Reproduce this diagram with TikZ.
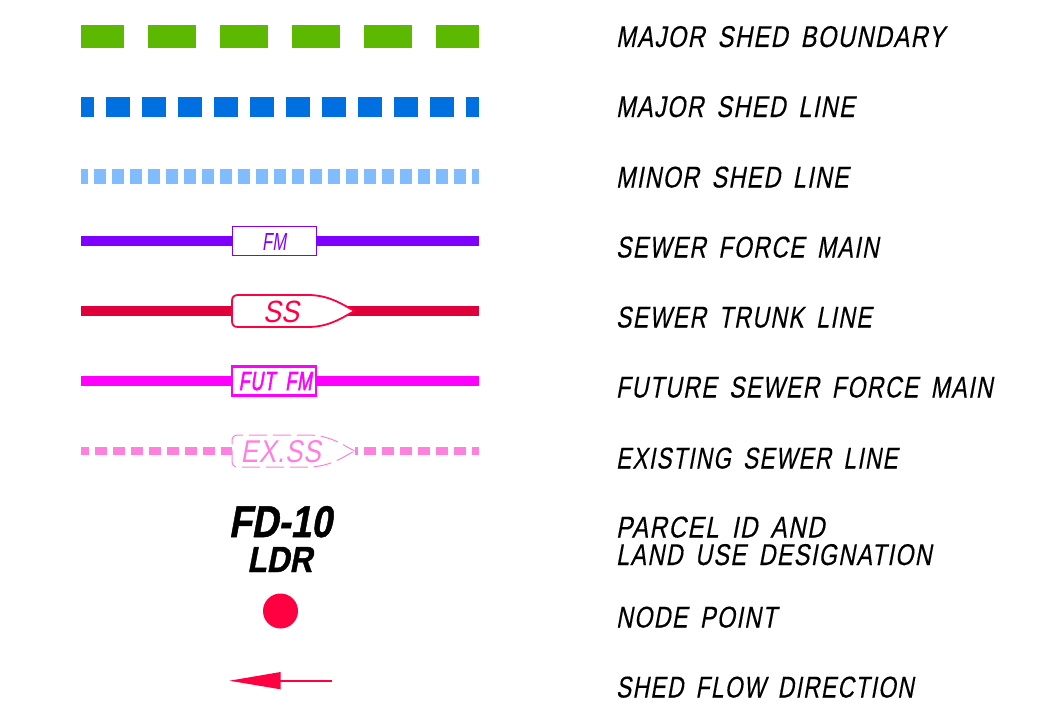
\documentclass[tikz,border=0pt]{standalone}
\usepackage{fontspec}
\usepackage{graphicx}
\setmainfont[FakeSlant=0.22]{Liberation Sans}
\newfontfamily\labfont[LetterSpace=6,WordSpace=1.6,FakeSlant=0.24,FakeBold=0.35]{Liberation Sans}
\newfontfamily\exfont[LetterSpace=3,FakeSlant=0.22]{Liberation Sans}
\newfontfamily\futfont[LetterSpace=5,WordSpace=1.8,FakeSlant=0.24,FakeBold=2.5]{Liberation Sans}
\newfontfamily\heavyfont[BoldFeatures={FakeSlant=0.22,FakeBold=1.2}]{Liberation Sans}
\definecolor{shedgreen}{HTML}{5CB800}
\definecolor{shedblue}{HTML}{0070E0}
\definecolor{shedlight}{HTML}{80BCFF}
\definecolor{fmpurple}{HTML}{8000FF}
\definecolor{trunkred}{HTML}{E0003A}
\definecolor{symred}{HTML}{FF0040}
\definecolor{futmag}{HTML}{FF00FF}
\definecolor{expink}{HTML}{FF80DD}
\newcommand{\fitbox}[3]{\resizebox{#1pt}{#2pt}{#3}}
\newcommand{\shiplabel}[4]{% name, baseline y, width, text
  \node[inner sep=0,anchor=base west] (#1) at (615.8,#2) {\labfont\fitbox{#3}{21}{#4}};}
\newcommand{\shipoutline}[2]{% y centre, style
  \draw[#2] (354.5,#1) .. controls (344,#1-5.5) and (330,#1-16) .. (308,#1-16)
     -- (238,#1-16) .. controls (234,#1-16) and (232,#1-14) .. (232,#1-10)
     -- (232,#1+10) .. controls (232,#1+14) and (234,#1+16) .. (238,#1+16)
     -- (308,#1+16) .. controls (330,#1+16) and (344,#1+5.5) .. (354.5,#1);}
\tikzset{
  x=1pt,y=-1pt,
  legendline/.style={line width=#1,line cap=butt},
  tagbox/.style={inner sep=0,minimum width=84pt,rectangle},
  tagtext/.style={inner sep=0,anchor=base west},
}
\begin{document}
\begin{tikzpicture}
\useasboundingbox (0,0) rectangle (1057,717);
% end points of the sample lines
\foreach \n/\y in {a/36.5,b/107,c/176.5,d/241,e/311,f/381,g/451}{
  \coordinate (\n L) at (81,\y);
  \coordinate (\n R) at (479,\y);
}
% dashed samples
\draw[legendline=23.5pt,shedgreen,dash pattern=on 48pt off 24pt,dash phase=5pt] (aL) -- (aR);
\draw[legendline=19.5pt,shedblue,dash pattern=on 24pt off 12pt,dash phase=11pt] (bL) -- (bR);
\draw[legendline=15pt,shedlight,dash pattern=on 12pt off 6pt,dash phase=5pt] (cL) -- (cR);
% force main
\node[draw=fmpurple,line width=1pt,fill=white,tagbox,minimum height=28.5pt] (fmbox) at (274,241) {};
\draw[legendline=9.5pt,fmpurple] (dL) -- (fmbox.west);
\draw[legendline=9.5pt,fmpurple] (fmbox.east) -- (dR);
\node[tagtext,text=fmpurple] (fmtext) at (262,250) {\fitbox{24}{17}{FM}};
% trunk line
\coordinate (ssL) at (232,311);
\coordinate (ssT) at (340,311);
\draw[legendline=10.5pt,trunkred] (eL) -- (ssL);
\draw[legendline=10.5pt,trunkred] (ssT) -- (eR);
\shipoutline{311}{draw=symred,line width=1.8pt,fill=white}
\node[tagtext,text=symred] (sstext) at (263,322.5) {\fitbox{36}{21.5}{SS}};
% future force main
\node[draw=futmag,line width=2.2pt,fill=white,tagbox,minimum height=29pt] (futbox) at (274,381) {};
\draw[legendline=10pt,futmag] (fL) -- (futbox.west);
\draw[legendline=10pt,futmag] (futbox.east) -- (fR);
\node[tagtext,text=futmag] (futtext) at (238.5,390) {\futfont\fitbox{73}{18}{FUT FM}};
% existing line
\coordinate (exL) at (232,451);
\coordinate (exT) at (355,451);
\draw[legendline=8pt,expink,dash pattern=on 12pt off 6pt,dash phase=4pt] (gL) -- (exL);
\draw[legendline=8pt,expink,dash pattern=on 12pt off 6pt,dash phase=9pt] (exT) -- (gR);
\shipoutline{451}{draw=expink,line width=1pt,dash pattern=on 18pt off 6pt,dash phase=5pt,fill=white}
\node[tagtext,text=expink] (extext) at (240.5,462) {\exfont\fitbox{80}{22}{EX.SS}};
% parcel id
\node[tagtext] (fd) at (228.5,537) {\heavyfont\bfseries\fitbox{103}{31}{FD-10}};
\node[tagtext] (ldr) at (247,572) {\heavyfont\bfseries\fitbox{65}{25}{LDR}};
% node point
\node[circle,fill=symred,inner sep=0,minimum size=35pt] (nodept) at (280.5,611) {};
% flow arrow
\coordinate (flowS) at (332,680.7);
\coordinate (flowH) at (279,680.7);
\coordinate (flowT) at (229.5,680.7);
\draw[line width=2pt,symred] (flowS) -- (flowH);
\fill[symred] (flowT) -- (280.5,672) -- (280.5,689.3) -- cycle;
% labels
\shiplabel{l1}{47}{328.5}{MAJOR SHED BOUNDARY}
\shiplabel{l2}{117}{238.5}{MAJOR SHED LINE}
\shiplabel{l3}{187.5}{232.5}{MINOR SHED LINE}
\shiplabel{l4}{257.5}{262.5}{SEWER FORCE MAIN}
\shiplabel{l5}{327.5}{255.5}{SEWER TRUNK LINE}
\shiplabel{l6}{397.5}{376.5}{FUTURE SEWER FORCE MAIN}
\shiplabel{l7}{468.5}{281.5}{EXISTING SEWER LINE}
\shiplabel{l8}{537.5}{208.5}{PARCEL ID AND}
\shiplabel{l9}{565}{315.5}{LAND USE DESIGNATION}
\shiplabel{l10}{627.5}{160.5}{NODE POINT}
\shiplabel{l11}{697.5}{297.5}{SHED FLOW DIRECTION}
\end{tikzpicture}
\end{document}
